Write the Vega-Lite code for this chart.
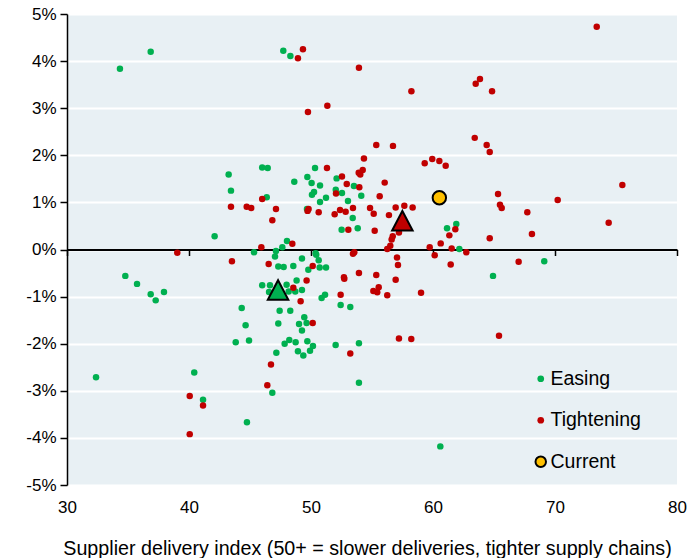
{
  "$schema": "https://vega.github.io/schema/vega-lite/v6.json",
  "width": 610,
  "height": 471,
  "autosize": {"type": "none"},
  "padding": {"left": 67, "top": 14, "right": 23, "bottom": 73},
  "config": {
    "view": {"fill": "#E8F0F4", "stroke": null},
    "font": "Liberation Sans",
    "axis": {"labelFont": "Liberation Sans", "titleFont": "Liberation Sans", "labelColor": "#000000", "titleColor": "#000000", "titleFontWeight": "normal"},
    "legend": {"labelFont": "Liberation Sans"}
  },
  "datasets": {
    "pts": [
      {"x":34.34,"y":3.84,"c":"Easing"},{"x":36.86,"y":4.20,"c":"Easing"},{"x":47.73,"y":4.22,"c":"Easing"},{"x":48.31,"y":4.11,"c":"Easing"},
      {"x":43.25,"y":1.59,"c":"Easing"},{"x":43.44,"y":1.25,"c":"Easing"},{"x":46.00,"y":1.74,"c":"Easing"},{"x":46.45,"y":1.73,"c":"Easing"},
      {"x":48.63,"y":1.44,"c":"Easing"},{"x":49.70,"y":1.54,"c":"Easing"},{"x":46.37,"y":1.11,"c":"Easing"},{"x":42.10,"y":0.28,"c":"Easing"},
      {"x":47.13,"y":-0.03,"c":"Easing"},{"x":47.65,"y":0.05,"c":"Easing"},{"x":48.03,"y":0.18,"c":"Easing"},{"x":50.33,"y":1.73,"c":"Easing"},
      {"x":50.05,"y":1.41,"c":"Easing"},{"x":50.74,"y":1.36,"c":"Easing"},{"x":50.25,"y":1.22,"c":"Easing"},{"x":50.08,"y":1.16,"c":"Easing"},
      {"x":51.23,"y":1.10,"c":"Easing"},{"x":50.74,"y":1.01,"c":"Easing"},{"x":49.67,"y":0.86,"c":"Easing"},{"x":45.33,"y":-0.06,"c":"Easing"},
      {"x":50.38,"y":-0.08,"c":"Easing"},{"x":52.10,"y":1.51,"c":"Easing"},{"x":52.03,"y":1.27,"c":"Easing"},{"x":52.54,"y":1.20,"c":"Easing"},
      {"x":53.52,"y":1.35,"c":"Easing"},{"x":53.03,"y":1.03,"c":"Easing"},{"x":54.12,"y":1.14,"c":"Easing"},{"x":53.42,"y":0.67,"c":"Easing"},
      {"x":52.51,"y":0.42,"c":"Easing"},{"x":53.83,"y":0.45,"c":"Easing"},{"x":61.15,"y":0.45,"c":"Easing"},{"x":61.91,"y":0.54,"c":"Easing"},
      {"x":62.16,"y":0.01,"c":"Easing"},{"x":69.12,"y":-0.25,"c":"Easing"},{"x":34.78,"y":-0.56,"c":"Easing"},{"x":35.74,"y":-0.73,"c":"Easing"},
      {"x":36.86,"y":-0.95,"c":"Easing"},{"x":37.27,"y":-1.08,"c":"Easing"},{"x":37.95,"y":-0.90,"c":"Easing"},{"x":32.38,"y":-2.71,"c":"Easing"},
      {"x":40.43,"y":-2.61,"c":"Easing"},{"x":41.15,"y":-3.19,"c":"Easing"},{"x":44.75,"y":-3.67,"c":"Easing"},{"x":44.32,"y":-1.24,"c":"Easing"},
      {"x":44.64,"y":-1.61,"c":"Easing"},{"x":43.83,"y":-1.97,"c":"Easing"},{"x":44.92,"y":-1.93,"c":"Easing"},{"x":46.83,"y":-3.04,"c":"Easing"},
      {"x":47.16,"y":-2.19,"c":"Easing"},{"x":47.32,"y":-1.57,"c":"Easing"},{"x":47.43,"y":-1.30,"c":"Easing"},{"x":48.30,"y":-1.30,"c":"Easing"},
      {"x":46.00,"y":-0.76,"c":"Easing"},{"x":46.64,"y":-0.76,"c":"Easing"},{"x":46.56,"y":-0.90,"c":"Easing"},{"x":48.00,"y":-0.75,"c":"Easing"},
      {"x":48.17,"y":-0.89,"c":"Easing"},{"x":48.82,"y":-0.66,"c":"Easing"},{"x":48.71,"y":-0.89,"c":"Easing"},{"x":49.26,"y":-0.86,"c":"Easing"},
      {"x":47.32,"y":-0.36,"c":"Easing"},{"x":47.76,"y":-0.37,"c":"Easing"},{"x":48.55,"y":-0.35,"c":"Easing"},{"x":47.05,"y":-0.15,"c":"Easing"},
      {"x":49.26,"y":-0.19,"c":"Easing"},{"x":49.78,"y":-0.43,"c":"Easing"},{"x":49.45,"y":-1.44,"c":"Easing"},{"x":49.64,"y":-1.56,"c":"Easing"},
      {"x":49.02,"y":-1.58,"c":"Easing"},{"x":49.26,"y":-1.72,"c":"Easing"},{"x":48.22,"y":-1.92,"c":"Easing"},{"x":47.84,"y":-2.00,"c":"Easing"},
      {"x":48.74,"y":-1.97,"c":"Easing"},{"x":49.70,"y":-1.95,"c":"Easing"},{"x":48.93,"y":-2.16,"c":"Easing"},{"x":49.37,"y":-2.25,"c":"Easing"},
      {"x":49.92,"y":-2.15,"c":"Easing"},{"x":50.43,"y":-0.11,"c":"Easing"},{"x":50.63,"y":-0.23,"c":"Easing"},{"x":50.71,"y":-0.38,"c":"Easing"},
      {"x":51.23,"y":-0.38,"c":"Easing"},{"x":51.15,"y":-0.96,"c":"Easing"},{"x":50.87,"y":-1.03,"c":"Easing"},{"x":50.16,"y":-2.05,"c":"Easing"},
      {"x":52.43,"y":-1.18,"c":"Easing"},{"x":53.22,"y":-1.22,"c":"Easing"},{"x":52.02,"y":-2.03,"c":"Easing"},{"x":53.93,"y":-1.99,"c":"Easing"},
      {"x":53.93,"y":-2.83,"c":"Easing"},{"x":64.92,"y":-0.56,"c":"Easing"},{"x":60.60,"y":-4.18,"c":"Easing"},
      {"x":49.34,"y":4.25,"c":"Tightening"},{"x":48.93,"y":4.06,"c":"Tightening"},{"x":49.75,"y":2.92,"c":"Tightening"},{"x":46.00,"y":1.07,"c":"Tightening"},
      {"x":43.44,"y":0.91,"c":"Tightening"},{"x":44.73,"y":0.91,"c":"Tightening"},{"x":45.10,"y":0.88,"c":"Tightening"},{"x":47.13,"y":0.86,"c":"Tightening"},
      {"x":46.83,"y":0.62,"c":"Tightening"},{"x":45.93,"y":0.05,"c":"Tightening"},{"x":48.47,"y":0.12,"c":"Tightening"},{"x":51.31,"y":1.73,"c":"Tightening"},
      {"x":49.72,"y":0.82,"c":"Tightening"},{"x":49.80,"y":0.86,"c":"Tightening"},{"x":50.63,"y":0.79,"c":"Tightening"},{"x":53.93,"y":3.86,"c":"Tightening"},
      {"x":51.34,"y":3.05,"c":"Tightening"},{"x":58.23,"y":3.36,"c":"Tightening"},{"x":63.50,"y":3.52,"c":"Tightening"},{"x":63.85,"y":3.62,"c":"Tightening"},
      {"x":64.84,"y":3.36,"c":"Tightening"},{"x":63.42,"y":2.37,"c":"Tightening"},{"x":64.40,"y":2.22,"c":"Tightening"},{"x":64.65,"y":2.07,"c":"Tightening"},
      {"x":55.35,"y":2.22,"c":"Tightening"},{"x":56.72,"y":2.20,"c":"Tightening"},{"x":54.34,"y":1.93,"c":"Tightening"},{"x":59.32,"y":1.83,"c":"Tightening"},
      {"x":59.94,"y":1.92,"c":"Tightening"},{"x":60.52,"y":1.88,"c":"Tightening"},{"x":61.04,"y":1.78,"c":"Tightening"},{"x":52.54,"y":1.55,"c":"Tightening"},
      {"x":52.93,"y":1.39,"c":"Tightening"},{"x":53.91,"y":1.63,"c":"Tightening"},{"x":54.04,"y":1.59,"c":"Tightening"},{"x":54.24,"y":1.69,"c":"Tightening"},
      {"x":53.96,"y":1.32,"c":"Tightening"},{"x":52.05,"y":1.19,"c":"Tightening"},{"x":56.04,"y":1.42,"c":"Tightening"},{"x":55.63,"y":1.13,"c":"Tightening"},
      {"x":65.33,"y":1.18,"c":"Tightening"},{"x":65.49,"y":0.95,"c":"Tightening"},{"x":65.63,"y":0.88,"c":"Tightening"},{"x":67.73,"y":0.79,"c":"Tightening"},
      {"x":68.11,"y":0.33,"c":"Tightening"},{"x":64.65,"y":0.24,"c":"Tightening"},{"x":51.94,"y":0.75,"c":"Tightening"},{"x":52.38,"y":0.84,"c":"Tightening"},
      {"x":52.84,"y":0.80,"c":"Tightening"},{"x":53.44,"y":0.88,"c":"Tightening"},{"x":54.84,"y":0.88,"c":"Tightening"},{"x":55.14,"y":0.76,"c":"Tightening"},
      {"x":53.06,"y":0.42,"c":"Tightening"},{"x":55.22,"y":0.40,"c":"Tightening"},{"x":56.94,"y":0.89,"c":"Tightening"},{"x":57.65,"y":0.93,"c":"Tightening"},
      {"x":58.33,"y":0.89,"c":"Tightening"},{"x":56.39,"y":0.73,"c":"Tightening"},{"x":57.21,"y":0.36,"c":"Tightening"},{"x":56.70,"y":0.28,"c":"Tightening"},
      {"x":56.61,"y":0.21,"c":"Tightening"},{"x":56.25,"y":0.01,"c":"Tightening"},{"x":56.50,"y":0.08,"c":"Tightening"},{"x":61.83,"y":0.43,"c":"Tightening"},
      {"x":61.34,"y":0.30,"c":"Tightening"},{"x":59.73,"y":0.05,"c":"Tightening"},{"x":60.63,"y":0.13,"c":"Tightening"},{"x":61.53,"y":0.02,"c":"Tightening"},
      {"x":70.22,"y":1.05,"c":"Tightening"},{"x":62.73,"y":-0.06,"c":"Tightening"},{"x":61.45,"y":-0.32,"c":"Tightening"},{"x":67.02,"y":-0.26,"c":"Tightening"},
      {"x":73.42,"y":4.73,"c":"Tightening"},{"x":75.52,"y":1.37,"c":"Tightening"},{"x":74.40,"y":0.57,"c":"Tightening"},{"x":39.04,"y":-0.07,"c":"Tightening"},
      {"x":43.52,"y":-0.25,"c":"Tightening"},{"x":40.06,"y":-3.11,"c":"Tightening"},{"x":41.15,"y":-3.31,"c":"Tightening"},{"x":40.06,"y":-3.92,"c":"Tightening"},
      {"x":46.72,"y":-2.44,"c":"Tightening"},{"x":46.42,"y":-2.88,"c":"Tightening"},{"x":48.55,"y":-0.81,"c":"Tightening"},{"x":49.15,"y":-1.10,"c":"Tightening"},
      {"x":49.64,"y":-0.66,"c":"Tightening"},{"x":46.53,"y":-0.31,"c":"Tightening"},{"x":50.14,"y":-0.35,"c":"Tightening"},{"x":50.14,"y":-1.56,"c":"Tightening"},
      {"x":53.44,"y":-0.09,"c":"Tightening"},{"x":53.55,"y":-0.06,"c":"Tightening"},{"x":52.70,"y":-0.59,"c":"Tightening"},{"x":52.73,"y":-0.62,"c":"Tightening"},
      {"x":53.93,"y":-0.50,"c":"Tightening"},{"x":55.35,"y":-0.54,"c":"Tightening"},{"x":57.05,"y":-0.17,"c":"Tightening"},{"x":57.13,"y":-0.33,"c":"Tightening"},
      {"x":56.94,"y":-0.64,"c":"Tightening"},{"x":52.43,"y":-0.96,"c":"Tightening"},{"x":55.11,"y":-0.88,"c":"Tightening"},{"x":55.43,"y":-0.91,"c":"Tightening"},
      {"x":55.55,"y":-0.80,"c":"Tightening"},{"x":56.25,"y":-0.97,"c":"Tightening"},{"x":59.02,"y":-0.92,"c":"Tightening"},{"x":57.21,"y":-1.89,"c":"Tightening"},
      {"x":58.22,"y":-1.90,"c":"Tightening"},{"x":53.22,"y":-2.21,"c":"Tightening"},{"x":60.14,"y":-0.12,"c":"Tightening"},{"x":65.41,"y":-1.83,"c":"Tightening"}
    ],
    "avg": [
      {"x":47.3,"y":-0.87,"c":"Easing"},
      {"x":57.49,"y":0.60,"c":"Tightening"}
    ],
    "cur": [
      {"x":60.52,"y":1.10,"c":"Current"}
    ]
  },
  "layer": [
    {
      "data": {"name": "pts"},
      "mark": {"type": "circle", "size": 42, "opacity": 1},
      "encoding": {
        "x": {"field": "x", "type": "quantitative", "scale": {"domain": [30, 80], "nice": false, "zero": false},
          "axis": {"orient": "bottom", "values": [30,40,50,60,70,80], "domain": false, "ticks": false, "grid": false, "labelFlush": false, "labelFontSize": 17, "labelPadding": 14, "title": "Supplier delivery index (50+ = slower deliveries, tighter supply chains)", "titleFontSize": 19.7, "titlePadding": 23, "titleX": 300, "titleAlign": "center"}},
        "y": {"field": "y", "type": "quantitative", "scale": {"domain": [-5, 5], "nice": false},
          "axis": {"values": [-5,-4,-3,-2,-1,0,1,2,3,4,5], "labelExpr": "datum.value + '%'", "labelFontSize": 17, "labelPadding": 4, "title": null, "grid": true, "gridColor": "#FFFFFF", "gridWidth": 2, "domainColor": "#000000", "domainWidth": 1.5, "tickColor": "#000000", "tickWidth": 1.5, "tickSize": 7}},
        "color": {"field": "c", "type": "nominal", "scale": {"domain": ["Easing", "Tightening", "Current"], "range": ["#00B050", "#C00000", "#FFC000"]},
          "legend": {"title": null, "orient": "none", "legendX": 464, "legendY": 355, "labelFontSize": 19.5, "labelOffset": 0, "rowPadding": 20.5, "symbolSize": 100, "symbolType": "circle", "symbolOpacity": 1,
            "encode": {"symbols": {"update": {"size": {"signal": "datum.label === 'Current' ? 110 : 45"}, "stroke": {"signal": "datum.label === 'Current' ? '#000000' : null"}, "strokeWidth": {"value": 2}}}}}}
      }
    },
    {
      "data": {"name": "avg"},
      "mark": {"type": "point", "shape": "M0,-1L1,0.9L-1,0.9Z", "size": 420, "filled": true, "opacity": 1, "stroke": "#000000", "strokeWidth": 2},
      "encoding": {
        "x": {"field": "x", "type": "quantitative", "scale": {"domain": [30, 80], "nice": false, "zero": false},
          "axis": {"orient": "bottom", "offset": -235.5, "values": [30,40,50,60,70,80], "labels": false, "title": null, "grid": false, "domain": true, "domainColor": "#000000", "domainWidth": 2, "ticks": true, "tickColor": "#000000", "tickWidth": 1.5, "tickSize": 6}},
        "y": {"field": "y", "type": "quantitative"},
        "fill": {"field": "c", "type": "nominal", "scale": {"domain": ["Easing", "Tightening"], "range": ["#00B050", "#C00000"]}, "legend": null}
      }
    },
    {
      "data": {"name": "cur"},
      "mark": {"type": "circle", "size": 180, "opacity": 1, "stroke": "#000000", "strokeWidth": 2},
      "encoding": {
        "x": {"field": "x", "type": "quantitative", "axis": null},
        "y": {"field": "y", "type": "quantitative"},
        "color": {"field": "c", "type": "nominal"}
      }
    }
  ],
  "resolve": {"axis": {"x": "independent"}, "scale": {"fill": "independent"}}
}
